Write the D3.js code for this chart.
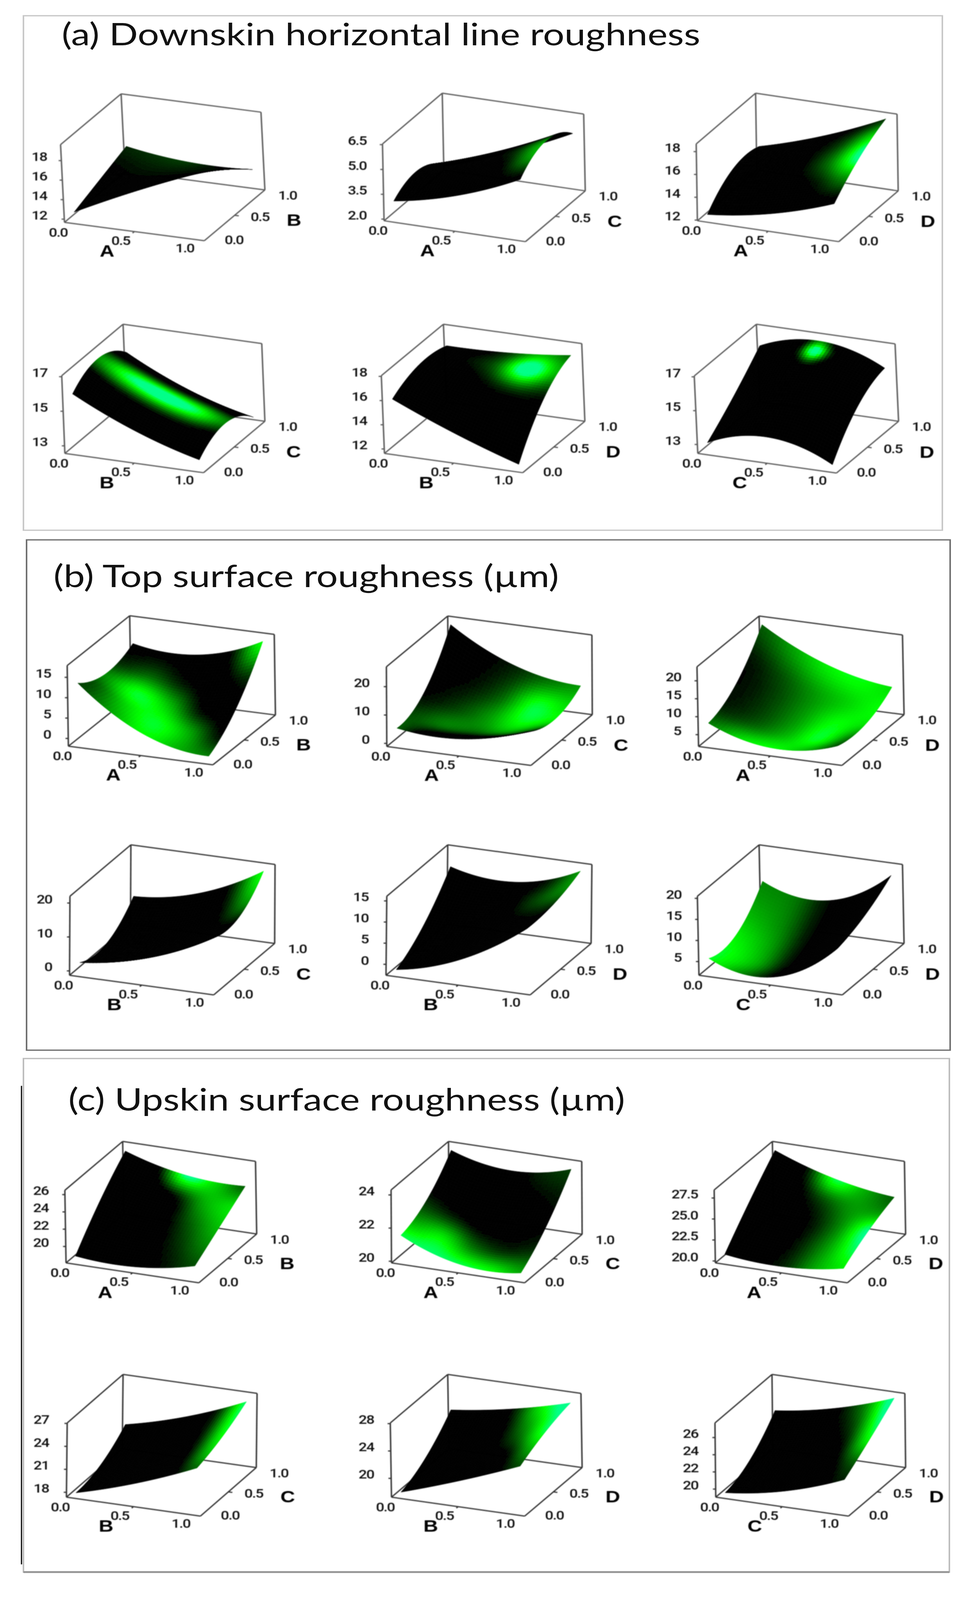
<!DOCTYPE html>
<html>
<head>
<meta charset="utf-8">
<script src="https://cdn.jsdelivr.net/npm/d3@7"></script>
<style>
  html, body { margin: 0; padding: 0; background: #fff; overflow: hidden; }
  svg { display: block; }
  .title { font-family: Lato, sans-serif; font-size: 97px; fill: #111; }
  .tick-label { font-family: Roboto, sans-serif; font-weight: 500; font-size: 38px; letter-spacing: -2px; fill: #111; }
  .axis-name { font-family: "Liberation Sans", sans-serif; font-weight: bold; font-size: 52px; fill: #000; }
</style>
</head>
<body>
<svg id="chart"></svg>
<script>
const titles = ["(a) Downskin horizontal line roughness", "(b) Top surface roughness (µm)", "(c) Upskin surface roughness (µm)"];
const axisNames = [["A", "B"], ["A", "C"], ["A", "D"], ["B", "C"], ["B", "D"], ["C", "D"]];
const xyTicks = [0, 0.5, 1];

// z axis: [low, high] of the box and the labelled ticks, panel by panel
const zDomains = [
  [11.67, 19.64], [1.9, 6.54], [11.94, 18.67], [12.56, 17.06], [11.63, 18.06], [12.47, 17.05],
  [-1.9, 17.9], [-1.1, 27], [1.7, 23.9], [-1.3, 22], [-2.6, 16.1], [1.74, 20.5],
  [18.1, 26.5], [19.9, 24.3], [19.77, 28.46], [17.36, 27.06], [17.25, 28.1], [19.06, 27.7]
];
const zTicks = [
  [12, 14, 16, 18], [2, 3.5, 5, 6.5], [12, 14, 16, 18], [13, 15, 17], [12, 14, 16, 18], [13, 15, 17],
  [0, 5, 10, 15], [0, 10, 20], [5, 10, 15, 20], [0, 10, 20], [0, 5, 10, 15], [5, 10, 15, 20],
  [20, 22, 24, 26], [20, 22, 24], [20, 22.5, 25, 27.5], [18, 21, 24, 27], [20, 24, 28], [20, 22, 24, 26]
];
const zFormats = [".0f", ".1f", ".0f", ".0f", ".0f", ".0f", ".0f", ".0f", ".0f", ".0f", ".0f", ".0f", ".0f", ".0f", ".1f", ".0f", ".0f", ".0f"];

// surface heights, rows go from front (second factor 0) to back (1), columns along the first factor
const heights = [
  [[12.55, 15.54, 18.2], [13.64, 14.84, 16.32], [14.72, 13.93, 14.03]],
  [[3.0, 3.9, 5.44], [3.6, 4.78, 6.44], [2.41, 3.8, 5.52]],
  [[12.36, 13.25, 14.95], [14.41, 15.4, 17.11], [14.41, 16.14, 18.47]],
  [[15.91, 14.24, 13.1], [16.69, 15.02, 13.93], [15.69, 13.99, 12.95]],
  [[15.99, 13.83, 12.03], [16.97, 16.13, 15.68], [16.66, 16.79, 17.3]],
  [[13.01, 13.84, 12.75], [14.41, 15.59, 14.9], [16.05, 16.83, 15.77]],
  [[13.19, 2.73, -0.61], [10.08, 4.54, 5.6], [12.16, 11.43, 16.79]],
  [[4.8, 3.99, 9.66], [9.35, 3.96, 5.7], [25.54, 13.96, 10.0]],
  [[7.78, 3.14, 6.18], [12.09, 5.78, 5.81], [22.75, 13.95, 10.11]],
  [[2.0, 5.92, 14.38], [1.0, 3.9, 12.98], [8.18, 11.65, 20.79]],
  [[-1.63, 2.9, 12.17], [3.37, 5.25, 12.64], [12.02, 10.45, 15.13]],
  [[5.38, 3.03, 11.87], [5.53, 4.42, 14.22], [12.94, 10.44, 18.53]],
  [[18.73, 18.51, 19.66], [22.71, 21.53, 21.78], [25.9, 24.16, 23.9]],
  [[21.48, 20.25, 20.29], [22.25, 21.37, 21.78], [24.03, 23.34, 23.97]],
  [[20.62, 20.2, 21.08], [24.45, 23.14, 23.09], [27.92, 25.6, 24.48]],
  [[17.74, 20.11, 23.21], [18.59, 21.08, 24.39], [21.08, 23.21, 26.29]],
  [[17.77, 20.71, 24.07], [19.76, 22.54, 25.93], [23.55, 24.92, 27.06]],
  [[19.41, 20.59, 22.92], [20.78, 22.4, 25.06], [24.0, 25.25, 27.43]]
];

// how green the surface glows, same row order; below 0 stays black, above .85 turns minty
const glow = [
  [[-.1, -.1, -.1, -.1, -.1], [-.1, -.1, -.1, -.05, -.1], [-.05, 0, .02, .02, 0], [.02, .08, .1, .05, 0], [.12, .16, .18, 0, -.1]],
  [[-.1, -.1, -.1, -.1, -.05], [-.1, -.1, -.1, 0, .55], [-.1, -.1, -.05, .1, .5], [-.1, -.1, -.1, -.1, -.2], [-.2, -.2, -.2, -.2, -.2]],
  [[-.1, -.1, -.1, -.1, -.1], [-.1, -.1, -.1, .05, .45], [-.1, -.1, -.05, .35, 1.1], [-.1, -.1, -.05, .2, .75], [-.1, -.1, -.1, 0, .15]],
  [[-.15, -.15, -.15, -.15, -.15], [-.1, 0, .05, .02, -.1], [.5, 1, 1.2, 1, .45], [0, .1, .1, .08, -.1], [-.15, -.15, -.15, -.15, -.15]],
  [[-.2, -.2, -.2, -.2, -.2], [-.2, -.2, -.2, -.2, -.2], [-.2, -.2, 0, .15, .05], [-.2, 0, .3, 1.2, .6], [-.2, -.1, .15, .6, .35]],
  [
    [-.2, -.2, -.2, -.2, -.2, -.2, -.2, -.2, -.2],
    [-.2, -.2, -.2, -.2, -.2, -.2, -.2, -.2, -.2],
    [-.2, -.2, -.2, -.2, -.2, -.2, -.2, -.2, -.2],
    [-.2, -.2, -.2, -.2, -.2, -.2, -.2, -.2, -.2],
    [-.2, -.2, -.2, -.2, -.2, -.2, -.2, -.2, -.2],
    [-.2, -.2, -.2, -.2, -.2, -.2, -.2, -.2, -.2],
    [-.2, -.2, -.2, -.1, .2, -.1, -.2, -.2, -.2],
    [-.2, -.2, -.2, .15, 1.2, .15, -.2, -.2, -.2],
    [-.2, -.2, -.2, -.05, .45, -.05, -.2, -.2, -.2]
  ],
  [[.2, .55, .85, .6, .4], [.25, .7, .9, .55, 0], [.45, .9, .6, 0, -.1], [.12, .3, .05, -.1, .15], [-.05, -.05, -.1, 0, .9]],
  [[.3, -.3, -.4, -.4, -.3], [.25, .4, .35, .5, .25], [0, .2, .5, .88, .8], [-.05, .02, .3, .88, .75], [-.1, -.05, .1, .35, .5]],
  [[.4, .75, .85, .6, .25], [.1, .3, .6, .9, .4], [.02, .2, .5, .85, .75], [.05, .25, .5, .7, .85], [.3, .55, .8, .88, .75]],
  [[-.1, -.1, -.1, -.1, -.1], [-.1, -.1, -.1, -.1, -.05], [-.2, -.2, -.2, -.1, .05], [-.2, -.2, -.2, -.02, .55], [-.2, -.2, -.2, .05, .9]],
  [[-.1, -.1, -.1, -.1, -.1], [-.1, -.1, -.1, -.1, -.1], [-.1, -.1, -.1, 0, .15], [-.1, -.1, -.1, .2, .45], [-.1, -.1, -.1, .05, .5]],
  [[.9, .45, -.02, -.1, -.1], [.9, .6, .05, -.1, -.1], [.8, .55, .05, -.1, -.1], [.6, .45, .05, -.1, -.1], [.45, .4, .05, -.1, -.1]],
  [[-.2, -.2, -.1, .05, .25], [-.2, -.2, -.1, .15, .45], [-.2, -.2, -.1, .3, .65], [-.2, -.2, 0, .55, .75], [-.2, -.15, 1.05, .75, .3]],
  [[.95, 1, .95, .85, .55], [.55, .75, .35, .15, .15], [.15, .05, -.1, -.05, 0], [-.15, -.15, -.15, -.05, .05], [-.15, -.15, -.1, .1, .2]],
  [[-.1, -.05, .12, .55, .8], [-.15, -.15, .05, .5, 1], [-.15, -.15, .02, .45, 1.05], [-.15, -.1, .25, .5, .5], [-.15, -.02, .95, .6, .3]],
  [[-.1, -.1, -.1, -.1, .35], [-.1, -.1, -.1, -.05, .65], [-.1, -.1, -.1, 0, .85], [-.1, -.1, -.1, .05, .95], [-.1, -.1, -.1, .05, 1]],
  [[-.1, -.1, -.1, -.1, .25], [-.1, -.1, -.1, -.05, .6], [-.1, -.1, -.1, .25, .95], [-.1, -.1, -.1, .5, 1.05], [-.1, -.1, 0, .75, 1.15]],
  [[-.1, -.1, -.1, -.1, .1], [-.1, -.1, -.1, -.1, .35], [-.1, -.1, -.1, 0, .85], [-.1, -.1, -.1, .2, 1.05], [-.1, -.1, -.05, .4, 1.15]]
];

// page layout: where each box sits (front left, front right, back right, top back corner)
const boxes = [
  [165, 692, 523, 749, 678, 591, 310, 292], [983, 687, 1345, 752, 1498, 594, 1132, 290], [1785, 687, 2147, 752, 2299, 594, 1934, 290],
  [166, 1411, 521, 1471, 678, 1311, 315, 1009], [984, 1411, 1338, 1471, 1497, 1311, 1135, 1009], [1786, 1411, 2141, 1472, 2300, 1311, 1936, 1009],
  [175, 2322, 545, 2380, 705, 2225, 332, 1916], [990, 2323, 1359, 2382, 1516, 2224, 1146, 1917], [1788, 2323, 2155, 2382, 2314, 2224, 1943, 1917],
  [178, 3035, 547, 3096, 703, 2936, 335, 2629], [988, 3035, 1357, 3096, 1513, 2936, 1146, 2629], [1789, 3035, 2156, 3096, 2314, 2936, 1943, 2629],
  [169, 3930, 509, 3992, 657, 3840, 314, 3552], [1002, 3930, 1343, 3992, 1490, 3841, 1148, 3552], [1831, 3930, 2169, 3992, 2318, 3841, 1977, 3552],
  [170, 4659, 513, 4718, 656, 4567, 315, 4277], [1002, 4659, 1343, 4718, 1490, 4567, 1146, 4277], [1832, 4659, 2172, 4718, 2318, 4567, 1976, 4277]
];
const titleSpots = [[158, 141], [137, 1827], [175, 3456]];
const frames = [
  { x1: 60, y1: 49, x2: 2412, y2: 1650, color: "#c8c8c8" },
  { x1: 68, y1: 1680, x2: 2432, y2: 3268, color: "#707070" },
  { x1: 60, y1: 3294, x2: 2430, y2: 4892, color: "#bdbdbd" }
];

const MESH = 40;
// the browser window can be shorter than the page, so fit the whole page into it
const svg = d3.select("#chart")
  .attr("width", window.innerWidth)
  .attr("height", window.innerHeight)
  .attr("viewBox", "0 0 2470 4979")
  .attr("preserveAspectRatio", "none");

svg.append("defs").append("filter").attr("id", "soft")
  .attr("filterUnits", "userSpaceOnUse")
  .attr("x", 0).attr("y", 0).attr("width", 2470).attr("height", 4979)
  .append("feGaussianBlur").attr("stdDeviation", 1.1);

const greenScale = d3.scaleLinear()
  .domain([0, 0.85, 1.05])
  .range(["#000000", "#00ff00", "#00ff88"])
  .clamp(true);

// quadratic through three values at 0, .5, 1
function quad(a, b, c, t) {
  return a * (2 * t - 1) * (t - 1) + b * 4 * t * (1 - t) + c * t * (2 * t - 1);
}

function heightAt(grid, s, r) {
  const row = grid.map(g => quad(g[0], g[1], g[2], s));
  return quad(row[0], row[1], row[2], r);
}

function catmull(p, t) {
  const n = p.length - 1;
  const x = Math.min(Math.max(t, 0), 1) * n;
  const i = Math.min(Math.floor(x), n - 1);
  const f = x - i;
  const p0 = p[Math.max(i - 1, 0)], p1 = p[i], p2 = p[i + 1], p3 = p[Math.min(i + 2, n)];
  return 0.5 * (2 * p1 + (p2 - p0) * f + (2 * p0 - 5 * p1 + 4 * p2 - p3) * f * f + (3 * p1 - p0 - 3 * p2 + p3) * f * f * f);
}

function glowAt(grid, s, r) {
  return catmull(grid.map(row => catmull(row, s)), r);
}

function drawPanel(i) {
  const [ox, oy, ax, ay, bx, by, tx, ty] = boxes[i];
  const dB = [bx - ax, by - ay];
  const dZ = [tx - (ox + dB[0]), ty - (oy + dB[1])];
  const zd = zDomains[i];

  // one scale per screen component of each data axis
  const ux = d3.scaleLinear().domain([0, 1]).range([0, ax - ox]);
  const uy = d3.scaleLinear().domain([0, 1]).range([0, ay - oy]);
  const vx = d3.scaleLinear().domain([0, 1]).range([0, dB[0]]);
  const vy = d3.scaleLinear().domain([0, 1]).range([0, dB[1]]);
  const zx = d3.scaleLinear().domain(zd).range([0, dZ[0]]);
  const zy = d3.scaleLinear().domain(zd).range([0, dZ[1]]);
  const project = (u, v, z) => [ox + ux(u) + vx(v) + zx(z), oy + uy(u) + vy(v) + zy(z)];

  const g = svg.append("g").attr("class", "panel");
  const stroke = i < 6 ? "#5a5a5a" : "#333";
  const [lo, hi] = zd;

  // box edges, all behind the surface
  const edges = [
    [[0, 0, hi], [0, 1, hi]], [[0, 1, hi], [1, 1, hi]], [[1, 1, hi], [1, 1, lo]], [[0, 1, hi], [0, 1, lo]],
    [[0, 0, hi], [0, 0, lo]], [[0, 0, lo], [1, 0, lo]], [[1, 0, lo], [1, 1, lo]],
    [[0, 0, lo], [0, 1, lo]], [[0, 1, lo], [1, 1, lo]]
  ];
  g.append("g").selectAll("path").data(edges).join("path")
    .attr("d", e => d3.line()(e.map(p => project(...p))))
    .attr("fill", "none").attr("stroke", stroke).attr("stroke-width", 3.6);

  // small tick marks on the three axes
  const marks = zTicks[i].map(z => {
    const p = project(0, 0, z);
    return [p, [p[0] - 7, p[1]]];
  }).concat([
    [project(0.5, 0, lo), project(0.5, -0.03, lo)],
    [project(1, 0.5, lo), project(1.03, 0.5, lo)]
  ]);
  g.append("g").selectAll("path").data(marks).join("path")
    .attr("d", d3.line())
    .attr("fill", "none").attr("stroke", stroke).attr("stroke-width", 3.6);

  // surface cells, far corner first so nearer cells paint over it
  const uScale = d3.scaleLinear().domain([0, 1]).range([0.05, 0.95]);
  const vScale = d3.scaleLinear().domain([0, 1]).range([0.05, 0.93]);
  const at = (s, r) => project(uScale(s), vScale(r), heightAt(heights[i], s, r));
  const steps = d3.range(MESH);
  const cells = steps.slice().reverse().flatMap(row => steps.map(col => ({ row, col })));
  g.append("g").selectAll("path").data(cells).join("path")
    .attr("d", c => {
      const s0 = c.col / MESH, s1 = (c.col + 1) / MESH, r0 = c.row / MESH, r1 = (c.row + 1) / MESH;
      return d3.line()([at(s0, r0), at(s1, r0), at(s1, r1), at(s0, r1)]) + "Z";
    })
    .each(function (c) {
      const col = greenScale(glowAt(glow[i], (c.col + 0.5) / MESH, (c.row + 0.5) / MESH));
      d3.select(this).attr("fill", col).attr("stroke", col).attr("stroke-width", 1);
    });

  // tick labels
  const zFormat = d3.format(zFormats[i]);
  g.append("g").selectAll("text").data(zTicks[i]).join("text")
    .attr("class", "tick-label")
    .attr("text-anchor", "end").attr("dominant-baseline", "central")
    .attr("x", ox - 45)
    .attr("y", z => project(0, 0, z)[1] - 12)
    .text(zFormat);

  const fmt = d3.format(".1f");
  const aOffsets = [[-16, 31], [-35, 28], [-50, 23]];
  const bOffsets = [[76, -2], [65, 5], [58, 17]];
  g.append("g").selectAll("text").data(xyTicks).join("text")
    .attr("class", "tick-label")
    .attr("text-anchor", "middle").attr("dominant-baseline", "central")
    .attr("x", (d, k) => project(d, 0, lo)[0] + aOffsets[k][0])
    .attr("y", (d, k) => project(d, 0, lo)[1] + aOffsets[k][1])
    .text(fmt);
  g.append("g").selectAll("text").data(xyTicks).join("text")
    .attr("class", "tick-label")
    .attr("text-anchor", "middle").attr("dominant-baseline", "central")
    .attr("x", (d, k) => project(1, d, lo)[0] + bOffsets[k][0])
    .attr("y", (d, k) => project(1, d, lo)[1] + bOffsets[k][1])
    .text(fmt);

  // factor names
  const names = axisNames[i % 6];
  const midA = project(0.5, 0, lo);
  const midB = project(1, 0.5, lo);
  g.append("text").attr("class", "axis-name")
    .attr("text-anchor", "middle").attr("dominant-baseline", "central")
    .attr("x", midA[0] - 70).attr("y", midA[1] + 60).text(names[0]);
  g.append("text").attr("class", "axis-name")
    .attr("text-anchor", "middle").attr("dominant-baseline", "central")
    .attr("x", midB[0] + 152).attr("y", midB[1] + 15).text(names[1]);
}

svg.append("g").selectAll("rect").data(frames).join("rect")
  .attr("x", d => d.x1).attr("y", d => d.y1)
  .attr("width", d => d.x2 - d.x1).attr("height", d => d.y2 - d.y1)
  .attr("fill", "none").attr("stroke", d => d.color).attr("stroke-width", 4);

// the third frame has a heavier bottom edge and a black stub down its left side
svg.append("line").attr("x1", 60).attr("x2", 2430).attr("y1", 4892).attr("y2", 4892)
  .attr("stroke", "#999").attr("stroke-width", 6);
svg.append("line").attr("x1", 55).attr("x2", 55).attr("y1", 3379).attr("y2", 4868)
  .attr("stroke", "#000").attr("stroke-width", 3);

d3.range(boxes.length).forEach(drawPanel);

svg.selectAll("g.panel").attr("filter", "url(#soft)");

svg.append("g").selectAll("text").data(titles).join("text")
  .attr("class", "title")
  .attr("x", (d, i) => titleSpots[i][0])
  .attr("y", (d, i) => titleSpots[i][1])
  .text(d => d);
</script>
</body>
</html>
